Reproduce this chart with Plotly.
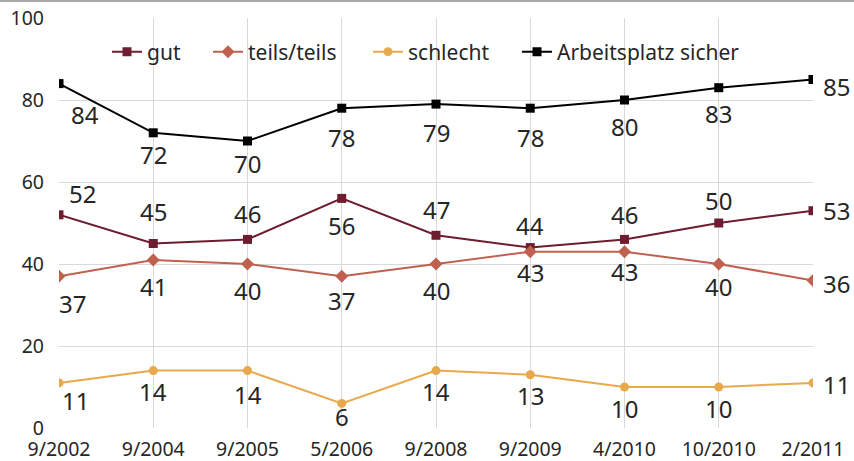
import plotly.graph_objects as go

categories = ["9/2002", "9/2004", "9/2005", "5/2006", "9/2008", "9/2009", "4/2010", "10/2010", "2/2011"]
gut = [52, 45, 46, 56, 47, 44, 46, 50, 53]
teils = [37, 41, 40, 37, 40, 43, 43, 40, 36]
schlecht = [11, 14, 14, 6, 14, 13, 10, 10, 11]
sicher = [84, 72, 70, 78, 79, 78, 80, 83, 85]

# label offsets in pixels (dx, dy; dy positive = downward)
off_sicher = [(26, 31), (0, 22), (0, 22), (0, 29), (0, 28), (0, 29), (0, 26), (0, 26), (23, 7)]
off_gut = [(23, -21), (0, -32), (0, -26), (0, 27), (0, -26), (0, -22), (0, -25), (0, -23), (23, 0)]
off_teils = [(13, 27), (0, 27), (0, 26), (0, 24), (0, 26), (0, 21), (0, 20), (0, 22), (23, 3)]
off_schlecht = [(16, 18), (0, 21), (0, 24), (0, 13), (0, 21), (0, 21), (0, 21), (0, 21), (23, 2)]

# legend text start positions (pixels from left of figure)
legend_px = [107, 208, 368, 517]

series = [
    ("gut", gut, "#6e1c30", "square", off_gut),
    ("teils/teils", teils, "#c0614f", "diamond", off_teils),
    ("schlecht", schlecht, "#e8a94c", "circle", off_schlecht),
    ("Arbeitsplatz sicher", sicher, "#000000", "square", off_sicher),
]

FONT = "Noto Sans"
PLOT_L, PLOT_W, PLOT_B, PLOT_H = 59, 754, 33, 410
fig = go.Figure()
x = list(range(len(categories)))
annotations = []
legends = {}
for k, (name, vals, col, sym, offs) in enumerate(series):
    lname = "legend" if k == 0 else f"legend{k+1}"
    fig.add_trace(go.Scatter(
        x=x, y=vals, name=name, mode="lines+markers", legend=lname,
        line=dict(color=col, width=2),
        marker=dict(symbol=sym, size=9 if sym != "diamond" else 10, color=col),
    ))
    legends[lname] = dict(
        orientation="h", x=(legend_px[k] - PLOT_L) / PLOT_W, y=0.917,
        xanchor="left", yanchor="middle",
        font=dict(size=21, family=FONT, color="#262626"),
        bgcolor="rgba(255,255,255,0)",
    )
    for i, v in enumerate(vals):
        dx, dy = offs[i]
        annotations.append(dict(
            x=i, y=v, xref="x", yref="y", text=str(v), showarrow=False,
            xshift=dx, yshift=-dy, font=dict(family=FONT, size=24, color="#262626"),
        ))

fig.update_layout(
    width=854, height=461,
    margin=dict(l=59, r=41, t=18, b=33, autoexpand=False),
    paper_bgcolor="white", plot_bgcolor="white",
    font=dict(family=FONT, color="#262626"),
    showlegend=True,
    annotations=annotations,
    shapes=[dict(type="line", xref="paper", yref="paper",
                 x0=-59/754, x1=(854-59)/754, y0=(428-1)/410, y1=(428-1)/410,
                 line=dict(color="#8c8c8c", width=1.5))],
    **legends,
)
fig.update_xaxes(
    range=[0, 8], tickvals=x, ticktext=categories, automargin=False,
    showgrid=True, gridcolor="#d9d9d9", gridwidth=1,
    zeroline=False, showline=False, ticks="",
    ticklabelstandoff=7,
    tickfont=dict(size=19.5, family=FONT, color="#262626"),
)
fig.update_yaxes(
    range=[0, 100], tickvals=[0, 20, 40, 60, 80, 100], automargin=False,
    showgrid=True, gridcolor="#d9d9d9", gridwidth=1,
    zeroline=False, showline=False, ticks="",
    ticklabelstandoff=14,
    tickfont=dict(size=19.5, family=FONT, color="#262626"),
)
fig.write_html("out.html", config={"displayModeBar": False},
               post_script="document.body.style.margin='0';document.body.style.overflow='hidden';")
